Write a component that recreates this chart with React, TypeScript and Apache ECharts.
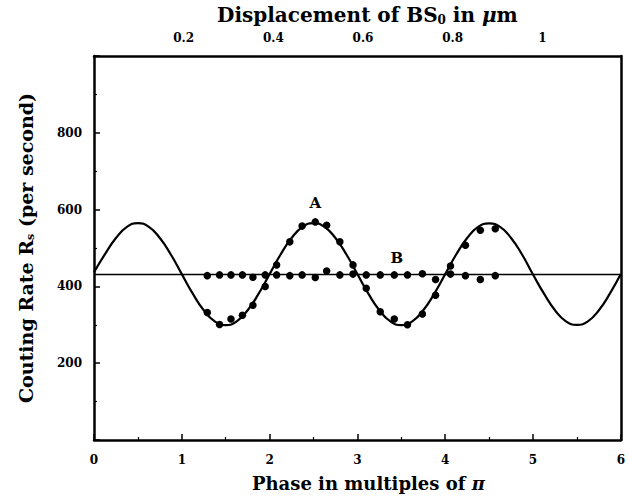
import React, { useEffect, useRef } from "react";
import * as echarts from "echarts";

// Fitted sine curve (every 1/8 of a phase unit)
const curveX = [
  0, 0.125, 0.25, 0.375, 0.5, 0.625, 0.75, 0.875, 1, 1.125, 1.25, 1.375, 1.5, 1.625, 1.75, 1.875,
  2, 2.125, 2.25, 2.375, 2.5, 2.625, 2.75, 2.875, 3, 3.125, 3.25, 3.375, 3.5, 3.625, 3.75, 3.875,
  4, 4.125, 4.25, 4.375, 4.5, 4.625, 4.75, 4.875, 5, 5.125, 5.25, 5.375, 5.5, 5.625, 5.75, 5.875, 6,
];
const curveY = [
  437, 484, 526, 555, 565, 555, 526, 483, 432, 381, 338, 309, 299, 309, 338, 381,
  432, 483, 526, 555, 565, 555, 526, 483, 432, 381, 338, 309, 299, 309, 338, 381,
  432, 483, 526, 555, 564, 555, 526, 483, 431, 381, 338, 309, 300, 309, 338, 381, 432,
];

// Flat reference line (B)
const flatX = [0, 6];
const flatY = [431, 431];

// Measured points
const pointX = [1.29, 1.43, 1.56, 1.69, 1.81, 1.95, 2.08, 2.23, 2.37, 2.52, 2.65, 2.8, 2.95, 3.1, 3.26, 3.42, 3.57, 3.74, 3.89, 4.06, 4.23, 4.4, 4.57];
const seriesA = [332, 301, 315, 325, 351, 400, 456, 516, 557, 568, 559, 516, 456, 395, 334, 315, 300, 328, 377, 453, 507, 546, 550];
const seriesB = [428, 430, 430, 430, 424, 430, 430, 428, 430, 423, 440, 430, 432, 430, 430, 430, 430, 433, 418, 432, 428, 418, 428];

// Annotations
const labelNames = ["A", "B"];
const labelX = [2.52, 3.45];
const labelY = [618, 474];

const SERIF = "'DejaVu Serif', 'Liberation Serif', serif";

export default function App() {
  const ref = useRef<HTMLDivElement>(null);
  useEffect(() => {
    document.body.style.margin = "0";
    const chart = echarts.init(ref.current!, null, { renderer: "svg" });
    const tickLabel = { color: "#000", fontFamily: SERIF, fontWeight: "bold" as const, fontSize: 12 };
    chart.setOption({
      animation: false,
      backgroundColor: "#fff",
      grid: { left: 94, right: 3, top: 56, bottom: 60 },
      xAxis: [
        {
          type: "value",
          position: "bottom",
          min: 0,
          max: 6,
          interval: 1,
          name: "Phase in multiples of {pi|π}",
          nameLocation: "middle",
          nameGap: 34,
          nameTextStyle: {
            color: "#000",
            fontFamily: SERIF,
            fontWeight: "bold",
            fontSize: 18,
            padding: [0, 0, 0, 22],
            rich: { pi: { fontFamily: SERIF, fontStyle: "italic", fontWeight: "bold", fontSize: 18, color: "#000" } },
          },
          axisLine: { show: true, onZero: false, lineStyle: { color: "#000", width: 2.5 } },
          axisTick: { show: true, inside: true, length: 6, lineStyle: { color: "#000", width: 1.5 } },
          minorTick: { show: true, splitNumber: 2, length: 3, lineStyle: { color: "#000", width: 1.2 } },
          splitLine: { show: false },
          axisLabel: { ...tickLabel, margin: 14 },
        },
        {
          type: "value",
          position: "top",
          min: 0,
          max: 1.175,
          interval: 0.2,
          name: "Displacement of BS{sub|0} in {mu|μ}m",
          nameLocation: "middle",
          nameGap: 30,
          nameTextStyle: {
            color: "#000",
            fontFamily: SERIF,
            fontWeight: "bold",
            fontSize: 20,
            padding: [0, 0, 0, 20],
            rich: {
              sub: { fontFamily: SERIF, fontWeight: "bold", fontSize: 12, color: "#000", padding: [10, 0, 0, 0] },
              mu: { fontFamily: SERIF, fontStyle: "italic", fontWeight: "bold", fontSize: 20, color: "#000" },
            },
          },
          axisLine: { show: true, onZero: false, lineStyle: { color: "#000", width: 2.5 } },
          axisTick: { show: false },
          splitLine: { show: false },
          axisLabel: {
            ...tickLabel,
            margin: 12,
            showMinLabel: false,
            showMaxLabel: false,
            formatter: (v: number) => (v === 0 ? "" : Math.abs(v - 1) < 1e-9 ? "1" : v.toFixed(1)),
          },
        },
      ],
      yAxis: [
        {
          type: "value",
          position: "left",
          min: 0,
          max: 1000,
          interval: 200,
          name: "Couting Rate R{sub|s} (per second)",
          nameLocation: "middle",
          nameGap: 58,
          nameTextStyle: {
            color: "#000",
            fontFamily: SERIF,
            fontWeight: "bold",
            fontSize: 19,
            rich: { sub: { fontFamily: SERIF, fontWeight: "bold", fontSize: 11, color: "#000", padding: [9, 0, 0, 0] } },
          },
          axisLine: { show: true, onZero: false, lineStyle: { color: "#000", width: 2.5 } },
          axisTick: { show: true, inside: true, length: 6, lineStyle: { color: "#000", width: 1.5 } },
          minorTick: { show: true, splitNumber: 2, length: 3, lineStyle: { color: "#000", width: 1.2 } },
          splitLine: { show: false },
          axisLabel: {
            ...tickLabel,
            margin: 12,
            formatter: (v: number) => (v === 0 || v === 1000 ? "" : String(v)),
          },
        },
        {
          type: "value",
          position: "right",
          min: 0,
          max: 1000,
          axisLine: { show: true, onZero: false, lineStyle: { color: "#000", width: 2.5 } },
          axisTick: { show: false },
          axisLabel: { show: false },
          splitLine: { show: false },
        },
      ],
      series: [
        {
          type: "line",
          name: "fit A",
          data: curveX.map((x, i) => [x, curveY[i]]),
          smooth: true,
          showSymbol: false,
          lineStyle: { color: "#000", width: 2.2 },
          z: 2,
        },
        {
          type: "line",
          name: "fit B",
          data: flatX.map((x, i) => [x, flatY[i]]),
          showSymbol: false,
          lineStyle: { color: "#000", width: 1.6 },
          z: 2,
        },
        {
          type: "scatter",
          name: "A",
          data: pointX.map((x, i) => [x, seriesA[i]]),
          symbol: "circle",
          symbolSize: 7.5,
          itemStyle: { color: "#000", opacity: 1 },
          z: 3,
        },
        {
          type: "scatter",
          name: "B",
          data: pointX.map((x, i) => [x, seriesB[i]]),
          symbol: "circle",
          symbolSize: 7.5,
          itemStyle: { color: "#000", opacity: 1 },
          z: 3,
        },
        {
          type: "scatter",
          name: "labels",
          data: labelNames.map((n, i) => ({ name: n, value: [labelX[i], labelY[i]] })),
          symbolSize: 1,
          itemStyle: { color: "rgba(0,0,0,0)", opacity: 1 },
          label: {
            show: true,
            position: "inside",
            formatter: (p: any) => p.name,
            color: "#000",
            opacity: 1,
            fontFamily: SERIF,
            fontWeight: "bold",
            fontSize: 15,
          },
          z: 4,
        },
      ],
    });
    return () => chart.dispose();
  }, []);
  return <div ref={ref} style={{ width: 628, height: 500 }} />;
}
